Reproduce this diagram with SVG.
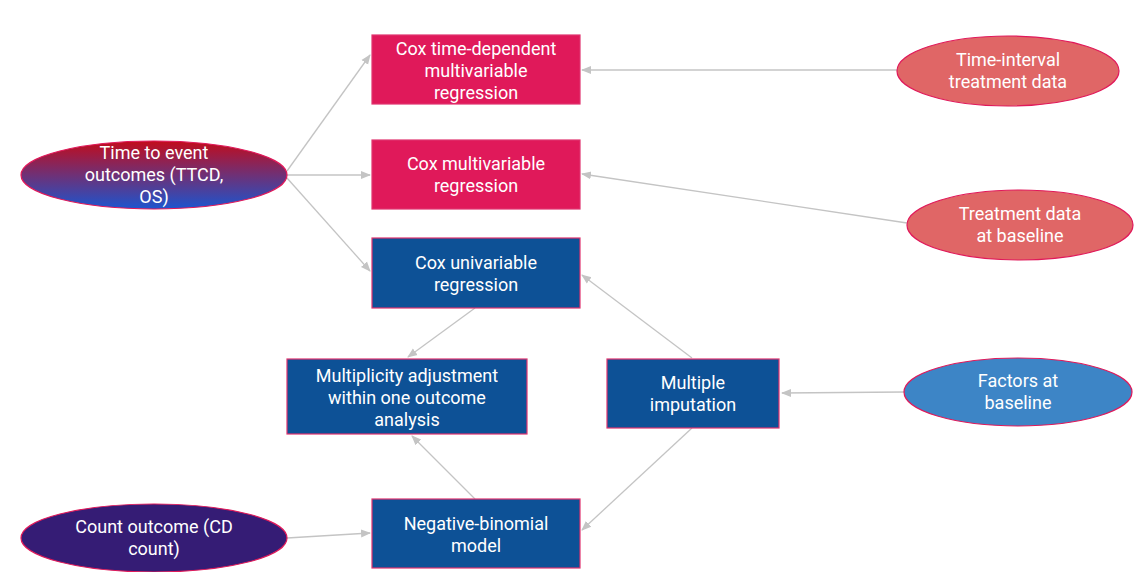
<svg xmlns="http://www.w3.org/2000/svg" width="1142" height="572" viewBox="0 0 1142 572">
<style>
text{font-family:Roboto,"Liberation Sans",sans-serif;font-size:18px;fill:#ffffff;text-anchor:middle}
.box{stroke:#e0336e;stroke-width:1.2}
.pink{fill:#e0195a}
.blue{fill:#0d5196}
.ell{stroke:#e0195a;stroke-width:1.2}
.conn line{stroke:#c4c4c4;stroke-width:1.3;marker-end:url(#ah)}
</style>
<defs>
<marker id="ah" viewBox="0 0 10 10" refX="9" refY="5" markerWidth="10" markerHeight="10" markerUnits="userSpaceOnUse" orient="auto">
<path d="M0,1 L10,5 L0,9 Z" fill="#c4c4c4"/>
</marker>
<linearGradient id="grad" x1="0" y1="0" x2="0" y2="1">
<stop offset="0" stop-color="#c20c1c"/>
<stop offset="1" stop-color="#1c55cf"/>
</linearGradient>
</defs>
<rect width="1142" height="572" fill="#ffffff"/>
<g class="conn" id="connectors">
<line x1="287" y1="171" x2="370" y2="55"/>
<line x1="287" y1="175" x2="370" y2="175"/>
<line x1="287" y1="178" x2="370" y2="271"/>
<line x1="897" y1="70" x2="582" y2="70"/>
<line x1="907" y1="223" x2="582" y2="174"/>
<line x1="475" y1="308" x2="408" y2="357"/>
<line x1="692" y1="358" x2="582" y2="275"/>
<line x1="904" y1="392" x2="782" y2="393"/>
<line x1="692" y1="428" x2="582" y2="530"/>
<line x1="475" y1="499" x2="412" y2="436"/>
<line x1="287" y1="538" x2="370" y2="533"/>
</g>
<g id="n-tdm"><rect class="box pink" x="372" y="35" width="208" height="69"/><text x="476" y="55">Cox time-dependent</text><text x="476" y="77">multivariable</text><text x="476" y="99">regression</text></g>
<g id="n-cm"><rect class="box pink" x="372" y="140" width="208" height="69"/><text x="476" y="170">Cox multivariable</text><text x="476" y="192">regression</text></g>
<g id="n-cu"><rect class="box blue" x="372" y="238" width="208" height="70"/><text x="476" y="269">Cox univariable</text><text x="476" y="291">regression</text></g>
<g id="n-mult"><rect class="box blue" x="287" y="359" width="240" height="75"/><text x="407" y="382">Multiplicity adjustment</text><text x="407" y="404">within one outcome</text><text x="407" y="426">analysis</text></g>
<g id="n-mi"><rect class="box blue" x="607" y="359" width="172" height="69"/><text x="693" y="389">Multiple</text><text x="693" y="411">imputation</text></g>
<g id="n-nb"><rect class="box blue" x="372" y="499" width="208" height="69"/><text x="476" y="530">Negative-binomial</text><text x="476" y="552">model</text></g>
<g id="n-tte"><ellipse class="ell" cx="154" cy="175" rx="133" ry="34" fill="url(#grad)"/><text x="154" y="159">Time to event</text><text x="154" y="181">outcomes (TTCD,</text><text x="154" y="203">OS)</text></g>
<g id="n-ti"><ellipse class="ell" cx="1008" cy="71" rx="111" ry="35" fill="#e06666"/><text x="1008" y="66">Time-interval</text><text x="1008" y="88">treatment data</text></g>
<g id="n-tb"><ellipse class="ell" cx="1020" cy="225" rx="113" ry="35" fill="#e06666"/><text x="1020" y="220">Treatment data</text><text x="1020" y="242">at baseline</text></g>
<g id="n-fb"><ellipse class="ell" cx="1018" cy="392" rx="114" ry="34" fill="#3d85c6"/><text x="1018" y="387">Factors at</text><text x="1018" y="409">baseline</text></g>
<g id="n-co"><ellipse class="ell" cx="154" cy="538" rx="133" ry="34" fill="#351c75"/><text x="154" y="533">Count outcome (CD</text><text x="154" y="555">count)</text></g>
</svg>
